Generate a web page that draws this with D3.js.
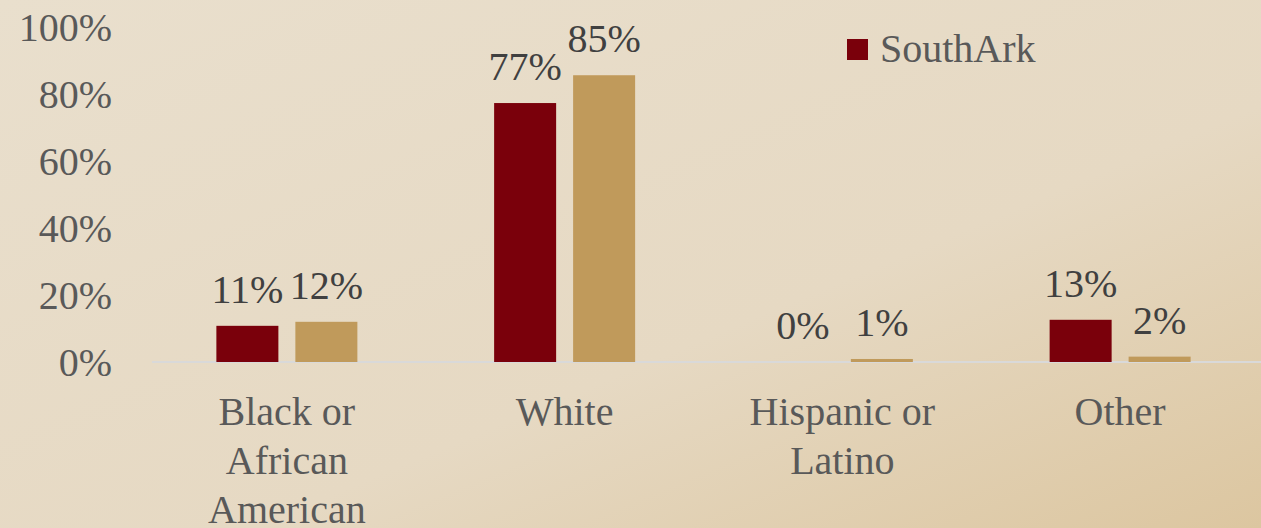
<!DOCTYPE html>
<html><head><meta charset="utf-8">
<script src="https://cdn.jsdelivr.net/npm/d3@7"></script>
<style>html,body{margin:0;padding:0;overflow:hidden;}</style>
</head><body>
<svg id="c" width="1261" height="528"></svg>
<script>
const categories = [["Black or","African","American"],["White"],["Hispanic or","Latino"],["Other"]];
const seriesNames = ["SouthArk","Arkansas"];
const southArk = [10.8, 77.3, 0, 12.6];
const arkansas = [12.0, 85.6, 0.9, 1.6];
const southArkLabels = ["11%","77%","0%","13%"];
const arkansasLabels = ["12%","85%","1%","2%"];
const yTicks = [0,20,40,60,80,100];
const colors = ["#7a000b","#c09a5b"];

const FONT = '"Liberation Serif"';
const fs = "40px";
const svg = d3.select("#c");
const defs = svg.append("defs");
const g = defs.append("linearGradient").attr("id","bg").attr("x1","0").attr("y1","0").attr("x2","1").attr("y2","1");
g.append("stop").attr("offset","0").attr("stop-color","#e9dfcd");
g.append("stop").attr("offset","0.6").attr("stop-color","#e6d9c3");
g.append("stop").attr("offset","1").attr("stop-color","#dcc6a0");
svg.append("rect").attr("width",1261).attr("height",528).attr("fill","url(#bg)");

const y = d3.scaleLinear().domain([0,100]).range([362,27]);
const x0 = d3.scaleBand().domain(d3.range(categories.length)).range([148,1259]);
const x1 = d3.scaleBand().domain([0,1]).range([0,141]).paddingInner(0.215);

svg.append("line").attr("x1",152).attr("x2",1261).attr("y1",y(0)).attr("y2",y(0))
  .attr("stroke","#d9d9d9").attr("stroke-width",2);

svg.selectAll(".yt").data(yTicks).enter().append("text")
  .attr("x",112).attr("y",d=>y(d)).attr("dy","0.35em").attr("text-anchor","end")
  .style("font-family",FONT).style("font-size",fs).attr("fill","#595959")
  .text(d=>d+"%");

const series = [southArk, arkansas];
const labels = [southArkLabels, arkansasLabels];
series.forEach((vals,si)=>{
  const off = x0.bandwidth()/2 - 141/2 + x1(si);
  svg.selectAll(".b"+si).data(vals).enter().append("rect")
    .attr("x",(d,i)=>x0(i)+off).attr("width",x1.bandwidth())
    .attr("y",d=>y(d)).attr("height",d=>y(0)-y(d)).attr("fill",colors[si]);
  svg.selectAll(".l"+si).data(vals).enter().append("text")
    .attr("x",(d,i)=>x0(i)+off+x1.bandwidth()/2).attr("y",d=>y(d)-23)
    .attr("text-anchor","middle").style("font-family",FONT).style("font-size",fs)
    .attr("fill","#404040").text((d,i)=>labels[si][i]);
});

categories.forEach((lines,i)=>{
  const t = svg.append("text").attr("x",x0(i)+x0.bandwidth()/2).attr("y",425)
    .attr("text-anchor","middle").style("font-family",FONT).style("font-size",fs).attr("fill","#595959");
  lines.forEach((l,k)=>t.append("tspan").attr("x",x0(i)+x0.bandwidth()/2).attr("dy",k?49:0).text(l));
});

svg.append("rect").attr("x",847).attr("y",39).attr("width",21).attr("height",21).attr("fill",colors[0]);
svg.append("text").attr("x",880).attr("y",62).style("font-family",FONT).style("font-size",fs)
  .attr("fill","#595959").text(seriesNames[0]);
</script>
</body></html>
